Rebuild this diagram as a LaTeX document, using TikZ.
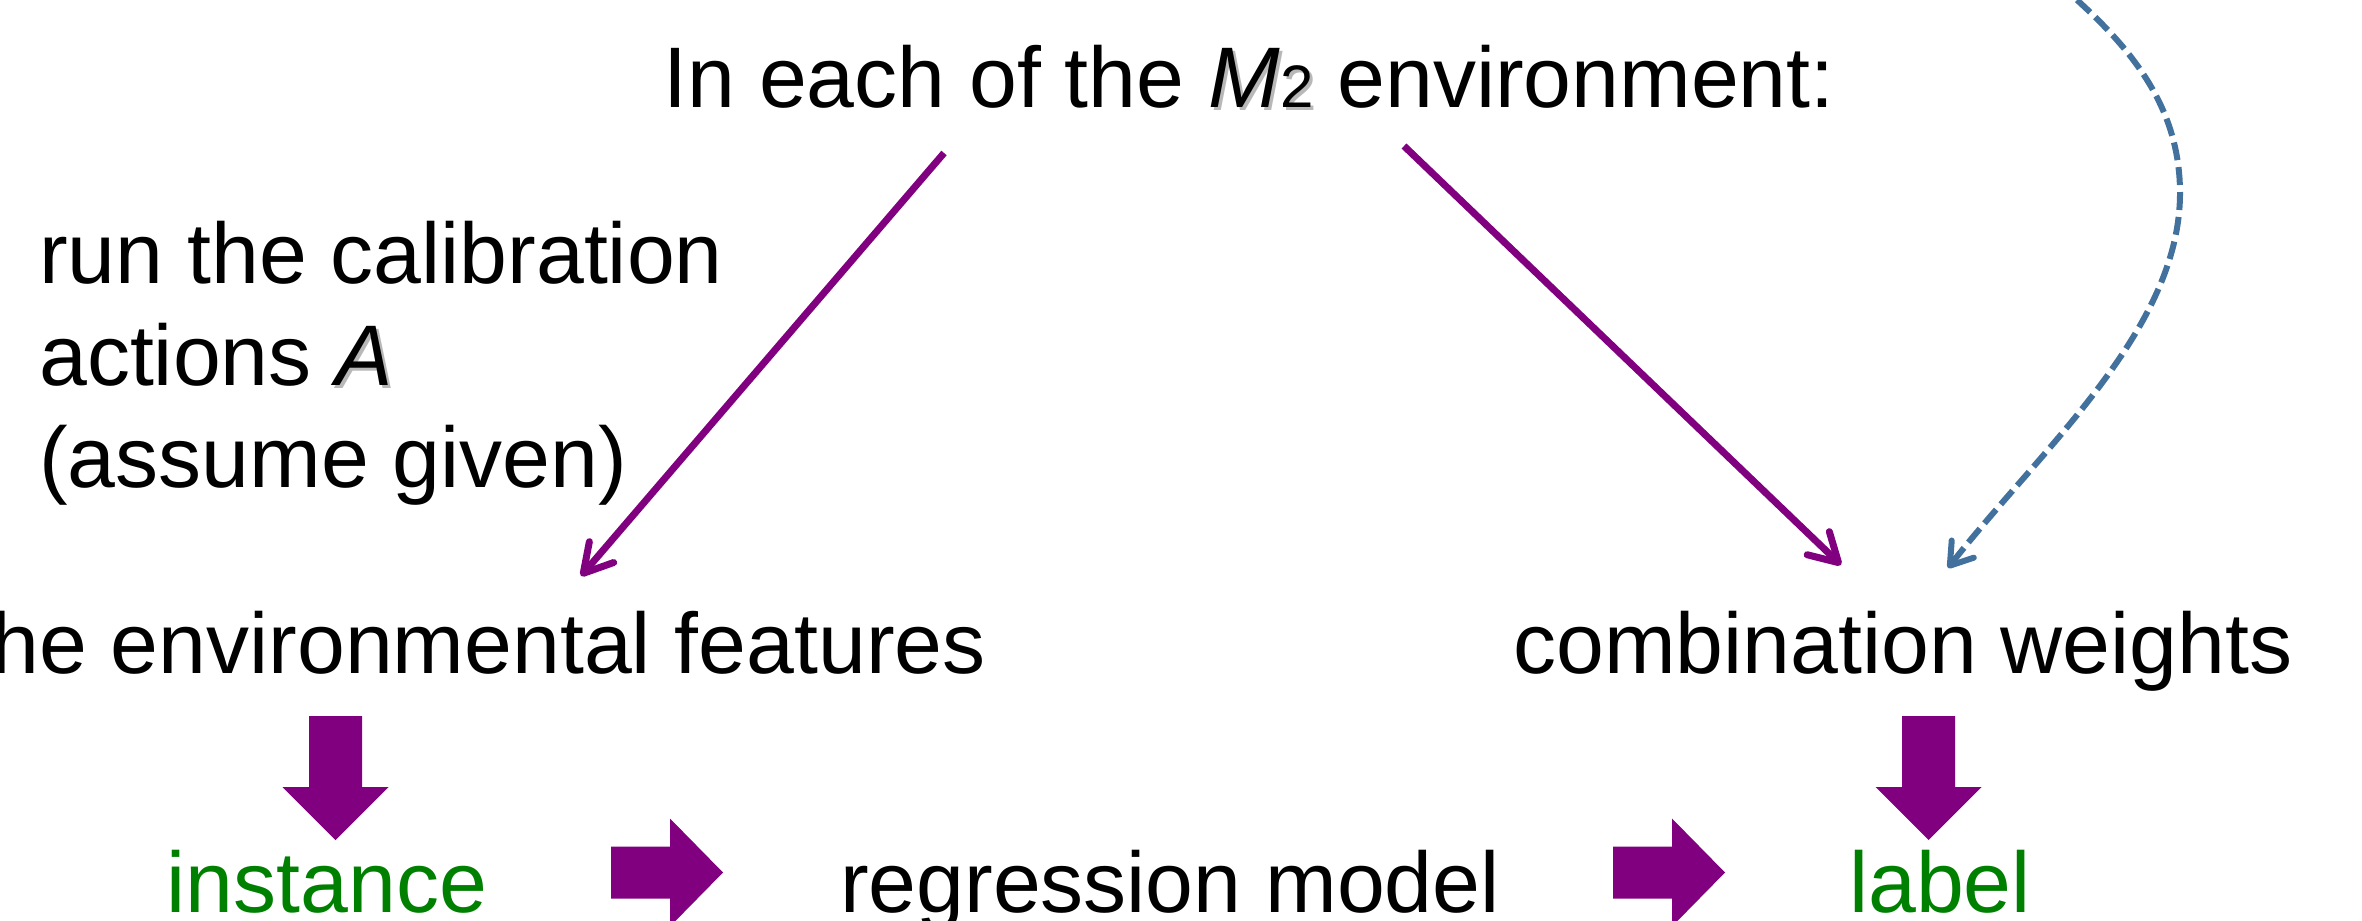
\documentclass[tikz,border=0pt]{standalone}
\usepackage{fontspec}
\setmainfont{Liberation Sans}
\usetikzlibrary{arrows.meta}
\definecolor{vio}{HTML}{800080}
\definecolor{grn}{HTML}{008000}
\definecolor{stblue}{HTML}{41719C}
\newcommand\shadowed[1]{\rlap{\hspace{3pt}\raisebox{-3pt}{\textcolor{black!28}{#1}}}#1}
\tikzset{
  txt/.style={inner sep=0pt, font=\fontsize{86}{102}\selectfont, anchor=base},
  greentxt/.style={txt, text=grn},
  linkarrow/.style={vio, line width=7pt, -{Straight Barb[length=28pt,width=32pt,round]}},
  dasharrow/.style={stblue, line width=6pt, dash pattern=on 18pt off 7pt, -{Straight Barb[length=21pt,width=28pt,round]}},
  downarr/.pic={\fill[vio] (-26.5,0) -- (26.5,0) -- (26.5,71) -- (53,71) -- (0,124) -- (-53,71) -- (-26.5,71) -- cycle;},
  rightarr/.pic={\fill[vio] (0,-26) -- (59,-26) -- (59,-54) -- (112,0) -- (59,54) -- (59,26) -- (0,26) -- cycle;}
}
\begin{document}
\begin{tikzpicture}[x=1pt,y=-1pt]
\path[use as bounding box] (0,0) rectangle (2362,921);
\clip (0,0) rectangle (2362,921);
% texts
\node[txt] (title) at (1249,107) {In each of the \shadowed{\textit{M}{\fontsize{60}{60}\selectfont 2}} environment:};
\node[txt, anchor=base west, align=left] (calib) at (39,487) {run the calibration\\actions \shadowed{\textit{A}}\\(assume given)};
\node[txt, anchor=base east] (feat) at (986,673) {the environmental features};
\node[txt] (weights) at (1903,673) {combination weights};
\node[greentxt] (inst) at (327,912) {instance};
\node[txt] (reg) at (1170,912) {regression model};
\node[greentxt] (lab) at (1940,912) {label};
% connector ends
\coordinate (a1s) at (944,153);
\coordinate (a1e) at (581,576);
\coordinate (a2s) at (1404,146);
\coordinate (a2e) at (1841,565);
\coordinate (ds) at (2077,0);
\coordinate (dr) at (2180,193);
\coordinate (de) at (1948,568);
\draw[linkarrow] (a1s) -- (a1e);
\draw[linkarrow] (a2s) -- (a2e);
\draw[dasharrow] (ds) .. controls (2132,50) and (2180,108) .. (dr) .. controls (2180,330) and (2040,450) .. (de);
% block arrows
\pic at (335.5,716) {downarr};
\pic at (1928.5,716) {downarr};
\pic at (611,872.5) {rightarr};
\pic at (1613,872.5) {rightarr};
\end{tikzpicture}
\end{document}
